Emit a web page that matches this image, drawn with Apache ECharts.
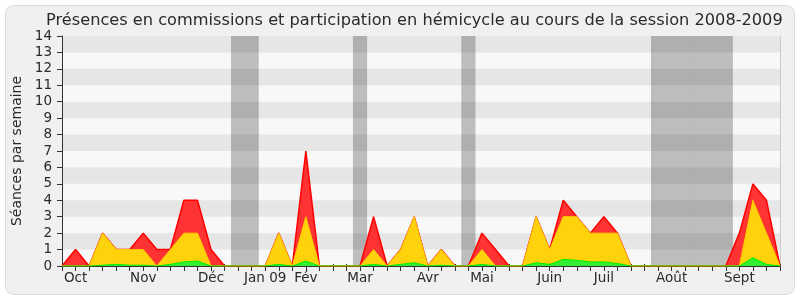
<!DOCTYPE html>
<html>
<head>
<meta charset="utf-8">
<style>
html,body{margin:0;padding:0;background:#ffffff;}
#chart{width:800px;height:300px;}
</style>
<script src="https://cdn.jsdelivr.net/npm/echarts@6/dist/echarts.min.js"></script>
</head>
<body>
<div id="chart"></div>
<script>
// Week indices of the session (one category per week)
var weeks = [];
for (var i = 0; i < 54; i++) { weeks.push('S' + i); }

// Month tick labels (week index -> label)
var monthLabels = {1:'Oct', 6:'Nov', 11:'Déc', 15:'Jan 09', 18:'Fév', 22:'Mar', 27:'Avr', 31:'Mai', 36:'Juin', 40:'Juil', 45:'Août', 50:'Sept'};

// Weeks of parliamentary vacation (grey bands)
var vacationWeeks = [13, 14, 22, 30, 44, 45, 46, 47, 48, 49];

// Total sessions per week (red)
var totalValues = [0,1,0,2,1,1,2,1,1,4, 4,1,0,0,0,0,2,0,7,0, 0,0,0,3,0,1,3,0,1,0, 0,2,1,0,0,3,1,4,3,2, 3,2,0,0,0,0,0,0,0,0, 2,5,4,0];
// Hemicycle participation (yellow)
var hemicycleValues = [0,0,0,2,1,1,1,0,1,2, 2,0,0,0,0,0,2,0,3,0, 0,0,0,1,0,1,3,0,1,0, 0,1,0,0,0,3,1,3,3,2, 2,2,0,0,0,0,0,0,0,0, 0,4,2,0];
// Commission presence (green)
var commissionValues = [0,0,0,0.05,0.1,0.05,0.05,0,0.1,0.25, 0.3,0,0,0,0,0,0.1,0,0.3,0, 0,0,0,0.1,0,0.1,0.2,0,0.05,0, 0,0.1,0,0,0,0.2,0.1,0.4,0.35,0.25, 0.25,0.15,0,0,0,0,0,0,0,0, 0,0.5,0.1,0];

// Y axis
var yMin = 0, yMax = 14, yStep = 1;

var vacationData = weeks.map(function (w, idx) {
  return vacationWeeks.indexOf(idx) >= 0 ? yMax : '-';
});

var chart = echarts.init(document.getElementById('chart'), null, {renderer: 'canvas'});
var font = 'DejaVu Sans';
var txt = '#2a2a2a';
chart.setOption({
  animation: false,
  textStyle: {fontFamily: font},
  graphic: [{
    type: 'rect', z: -10, silent: true,
    shape: {x: 5.5, y: 5.5, width: 789, height: 289, r: 8},
    style: {fill: '#f0f0f0', stroke: '#dcdcdc', lineWidth: 1}
  }],
  title: {
    text: 'Présences en commissions et participation en hémicycle au cours de la session 2008-2009',
    left: 41, top: 8,
    textStyle: {fontFamily: font, fontSize: 16.2, fontWeight: 'normal', color: txt}
  },
  grid: {left: 62, right: 20, top: 36, bottom: 34, show: true, backgroundColor: '#f8f8f8', borderWidth: 0},
  xAxis: [{
    type: 'category', data: weeks, boundaryGap: false,
    axisLine: {show: true, lineStyle: {color: '#333333', width: 1}},
    axisTick: {show: true, interval: 0, length: 5, lineStyle: {color: '#333333'}},
    axisLabel: {interval: 0, margin: 5, fontSize: 13.5, color: txt, fontFamily: font,
      formatter: function (v, idx) { return monthLabels[idx] || ''; }},
    splitLine: {show: false}
  }, {
    type: 'category', data: weeks, boundaryGap: false, position: 'top',
    axisLine: {show: false},
    axisTick: {show: true, interval: 0, length: 2, lineStyle: {color: '#333333'}},
    axisLabel: {show: false}, splitLine: {show: false}
  }],
  yAxis: [{
    type: 'value', min: yMin, max: yMax, interval: yStep, z: 3,
    name: 'Séances par semaine', nameLocation: 'middle', nameGap: 37,
    nameTextStyle: {fontFamily: font, fontSize: 14, color: txt},
    axisLine: {show: true, lineStyle: {color: '#333333'}},
    axisTick: {show: true, length: 5, lineStyle: {color: '#333333'}},
    axisLabel: {margin: 10, fontSize: 13.5, color: txt, fontFamily: font},
    splitLine: {show: false},
    splitArea: {show: true, areaStyle: {color: ['rgba(0,0,0,0)', 'rgba(0,0,0,0.07)']}}
  }, {
    type: 'value', min: yMin, max: yMax, interval: yStep, position: 'right',
    axisLine: {show: true, lineStyle: {color: '#cccccc'}},
    axisTick: {show: false}, axisLabel: {show: false}, splitLine: {show: false}
  }],
  series: [{
    name: 'vacances', type: 'bar', data: vacationData, barWidth: 14.2, z: 1, silent: true,
    itemStyle: {color: '#bdbdbd'}
  }, {
    name: 'total', type: 'line', data: totalValues, symbol: 'none', z: 5,
    lineStyle: {color: '#ff0000', width: 1.5},
    areaStyle: {color: '#ff3333', opacity: 1}
  }, {
    name: 'hémicycle', type: 'line', data: hemicycleValues, symbol: 'none', z: 6,
    lineStyle: {color: '#ffcc00', width: 1},
    areaStyle: {color: '#ffd20c', opacity: 1}
  }, {
    name: 'commissions', type: 'line', data: commissionValues, symbol: 'none', z: 7,
    lineStyle: {color: '#00ee00', width: 1},
    areaStyle: {color: '#33ee33', opacity: 1}
  }]
});
</script>
</body>
</html>
